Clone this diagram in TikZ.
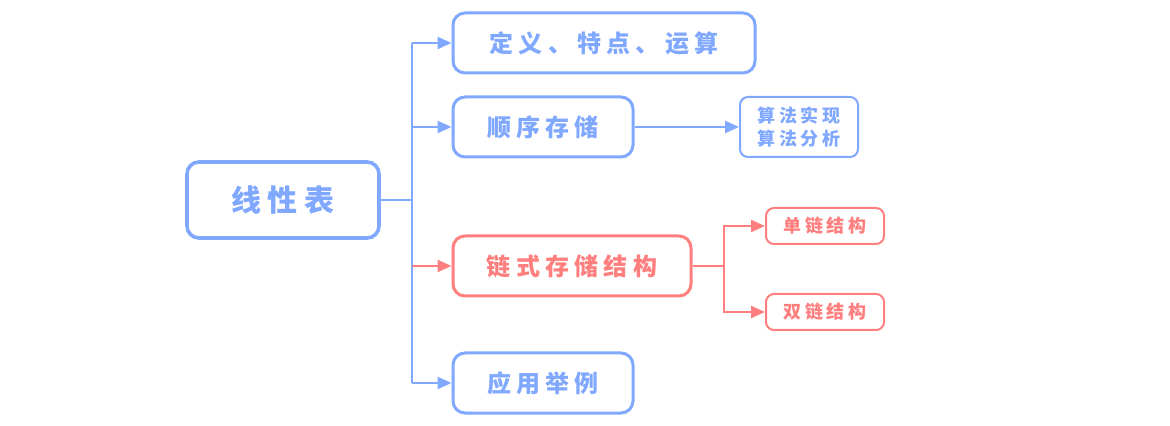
\documentclass[tikz,border=0pt]{standalone}
\usepackage{fontspec}
\newfontfamily\cjk[LetterSpace=22]{Noto Sans CJK SC}
\usetikzlibrary{arrows.meta}
\definecolor{mblue}{HTML}{80A8FF}
\definecolor{mred}{HTML}{FF7F7F}
\tikzset{
  box/.style={draw, line width=1.5pt, rounded corners=6pt, align=center, font=\cjk\bfseries\fontsize{12}{14}\selectfont, inner sep=0pt},
  smallbox/.style={draw, line width=1pt, rounded corners=4pt, align=center, font=\cjk\bfseries\fontsize{9}{11.5}\selectfont, inner sep=0pt},
  link/.style={line width=1.2pt, -{Triangle[length=7pt,width=6pt]}},
}
\begin{document}
\begin{tikzpicture}[x=0.5pt, y=-0.5pt]
  \useasboundingbox (0,0) rectangle (1170,426);

  \node[box, mblue, minimum width=96pt, minimum height=38pt, line width=1.8pt, font=\cjk\bfseries\fontsize{15}{18}\selectfont] (root) at (283, 200) {线性表};
  \node[box, mblue, minimum width=151pt, minimum height=30pt] (def) at (604, 43) {定义、特点、运算};
  \node[box, mblue, minimum width=90pt, minimum height=30pt] (seq) at (543, 127) {顺序存储};
  \node[box, mred, minimum width=119pt, minimum height=30pt] (chain) at (572, 266) {链式存储结构};
  \node[box, mblue, minimum width=90pt, minimum height=30pt] (app) at (543, 383) {应用举例};
  \node[smallbox, mblue, minimum width=59pt, minimum height=30pt] (algo) at (799, 127) {算法实现\\算法分析};
  \node[smallbox, mred, minimum width=59pt, minimum height=18pt] (single) at (825, 226) {单链结构};
  \node[smallbox, mred, minimum width=59pt, minimum height=18pt] (double) at (825, 312) {双链结构};

  \coordinate (trunk) at (412, 200);
  \coordinate (fork) at (724, 266);

  \draw[mblue, line width=1.2pt] (root.east) -- (trunk);
  \draw[mblue, line width=1.2pt] (trunk |- def) -- (trunk |- app);
  \draw[link, mblue] (trunk |- def) -- (def.west);
  \draw[link, mblue] (trunk |- seq) -- (seq.west);
  \draw[link, mred] (trunk |- chain) -- (chain.west);
  \draw[link, mblue] (trunk |- app) -- (app.west);
  \draw[link, mblue] (seq.east) -- (algo.west);

  \draw[mred, line width=1.2pt] (chain.east) -- (fork);
  \draw[link, mred] (fork) |- (single.west);
  \draw[link, mred] (fork) |- (double.west);
\end{tikzpicture}
\end{document}
